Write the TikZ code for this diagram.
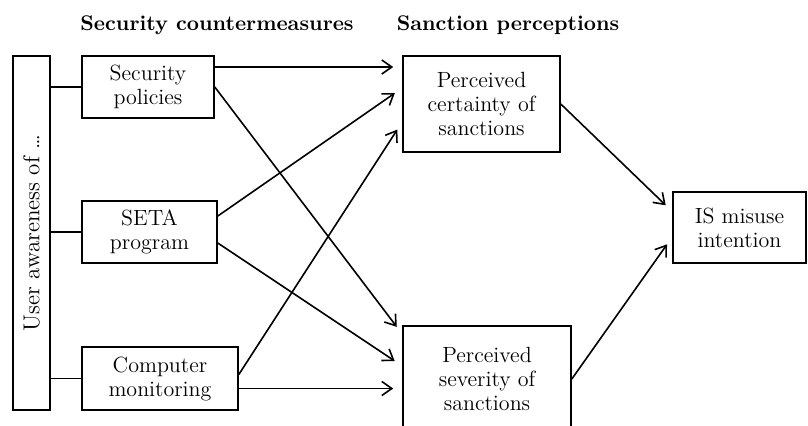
\documentclass[tikz,border=0pt]{standalone}
\usetikzlibrary{arrows.meta, positioning, calc}
\begin{document}
\begin{tikzpicture}[x=0.5pt, y=-0.5pt,
    box/.style={draw, line width=0.8pt, align=center, inner sep=0pt, font=\fontsize{11}{12}\selectfont},
    head/.style={font=\fontsize{10.6}{12}\selectfont\bfseries},
    link/.style={line width=0.8pt},
    arr/.style={line width=0.8pt, -{Straight Barb[length=5pt,width=7pt]}, shorten >=4.5pt}]
      \useasboundingbox (0, 0) rectangle (808, 425);

      \node[head] (hcm) at (217, 25) {Security countermeasures};
      \node[head] (hsp) at (508, 25) {Sanction perceptions};

      \node[box, rotate=90, minimum width=177pt, minimum height=18.5pt, font=\fontsize{11.5}{12}\selectfont] (aware) at (31.5, 233) {User awareness of \dots};
      \node[box, minimum width=66pt, minimum height=31pt] (pol) at (148, 87) {Security\\policies};
      \node[box, minimum width=67.5pt, minimum height=31pt] (seta) at (149.5, 232) {SETA\\program};
      \node[box, minimum width=78pt, minimum height=31.5pt] (mon) at (160, 378.5) {Computer\\monitoring};
      \node[box, minimum width=78.5pt, minimum height=48pt] (cert) at (481.5, 104) {Perceived\\certainty of\\sanctions};
      \node[box, minimum width=84pt, minimum height=53pt] (sev) at (487, 379) {Perceived\\severity of\\sanctions};
      \node[box, minimum width=66.5pt, minimum height=35.5pt] (isi) at (739.5, 227.5) {IS misuse\\intention};

      \foreach \n in {pol, seta, mon}
        \draw[link] (aware.south |- \n.west) -- (\n.west);

      \draw[arr] ([yshift=10pt]pol.east) -- ([yshift=10pt]pol.east -| cert.west);
      \draw[arr] (pol.east) -- ([yshift=22.5pt]sev.west);
      \draw[arr] ([yshift=8pt]seta.east) -- ([yshift=8pt]cert.west);
      \draw[arr] ([yshift=-5.5pt]seta.east) -- ([yshift=6.5pt]sev.west);
      \draw[arr] ([yshift=2pt]mon.east) -- ([yshift=-9pt]cert.west);
      \draw[arr] ([yshift=-5pt]mon.east) -- ([yshift=-5pt]mon.east -| sev.west);
      \draw[arr] (cert.east) -- ([yshift=8pt]isi.west);
      \draw[arr] (sev.east) -- ([yshift=-4.75pt]isi.west);
    \end{tikzpicture}
\end{document}
